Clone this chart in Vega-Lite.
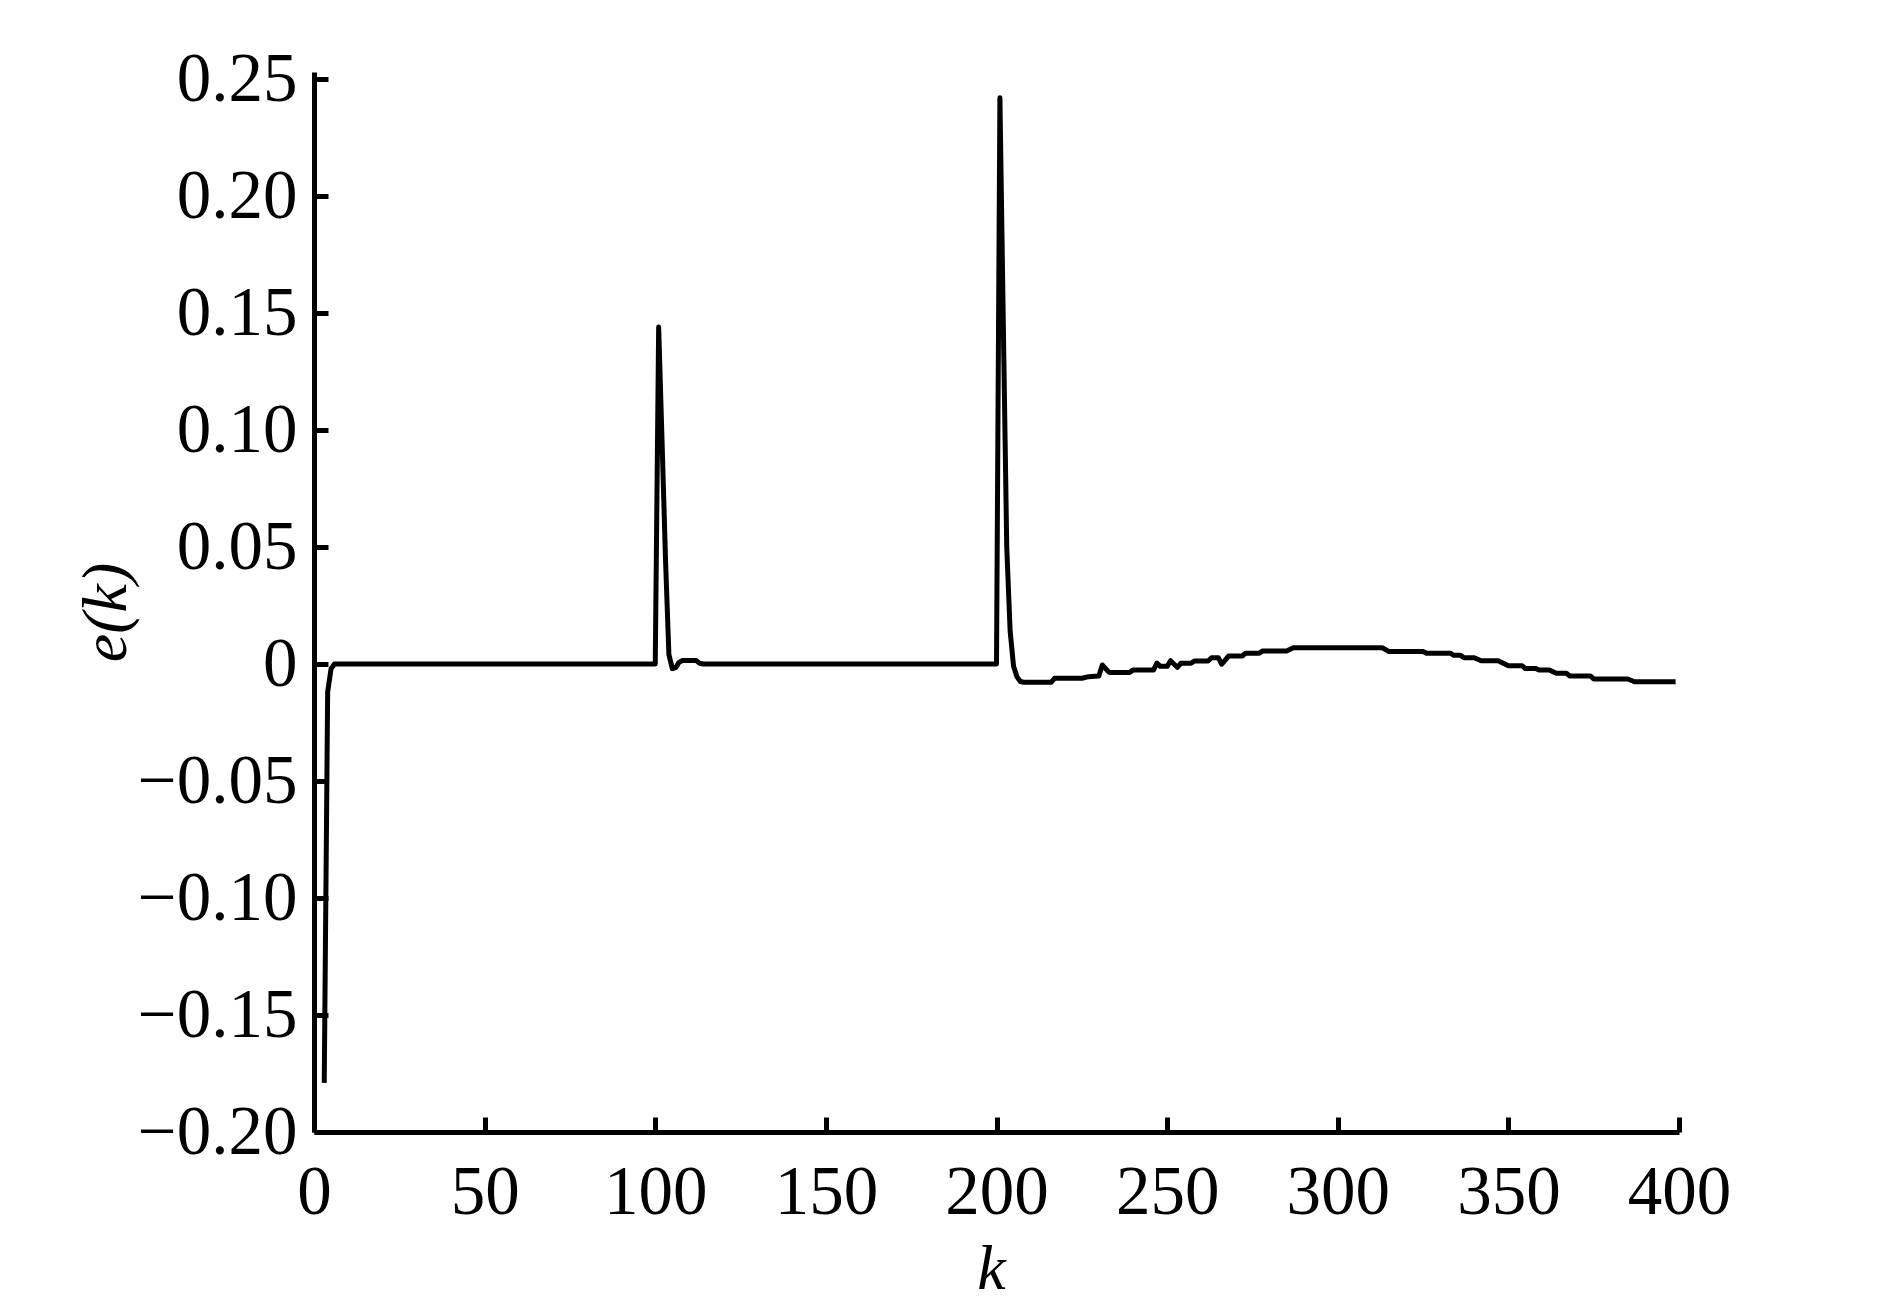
{
  "$schema": "https://vega.github.io/schema/vega-lite/v6.json",
  "width": 1365,
  "height": 1060,
  "autosize": "none",
  "padding": {"left": 314, "top": 72, "right": 211, "bottom": 167},
  "background": "white",
  "config": {
    "view": {"stroke": null},
    "axis": {
      "domainColor": "black", "domainWidth": 5, "tickColor": "black", "tickWidth": 5,
      "labelFont": "Liberation Serif", "labelFontSize": 69, "labelColor": "black",
      "titleFont": "Liberation Serif", "titleFontSize": 64, "titleFontStyle": "italic", "titleFontWeight": "normal", "titleColor": "black",
      "grid": false
    }
  },
  "data": {"values": [
    {"k": 3, "e": -0.179}, {"k": 4, "e": -0.012}, {"k": 5, "e": -0.002}, {"k": 6, "e": 0},
    {"k": 100, "e": 0}, {"k": 101, "e": 0.144}, {"k": 102, "e": 0.095}, {"k": 103, "e": 0.045},
    {"k": 104, "e": 0.004}, {"k": 105, "e": -0.002}, {"k": 106, "e": -0.0015}, {"k": 107, "e": 0.0008},
    {"k": 108, "e": 0.0015}, {"k": 112, "e": 0.0015}, {"k": 113, "e": 0.0003}, {"k": 114, "e": 0},
    {"k": 200, "e": 0}, {"k": 201, "e": 0.242}, {"k": 202, "e": 0.145}, {"k": 203, "e": 0.05},
    {"k": 204, "e": 0.014}, {"k": 205, "e": -0.001}, {"k": 206, "e": -0.0055}, {"k": 207, "e": -0.0075},
    {"k": 208, "e": -0.0078}, {"k": 216, "e": -0.0078}, {"k": 217, "e": -0.0061}, {"k": 225, "e": -0.0061},
    {"k": 227, "e": -0.0054}, {"k": 230, "e": -0.0051}, {"k": 231, "e": -0.0004}, {"k": 233, "e": -0.0036},
    {"k": 239, "e": -0.0036}, {"k": 240, "e": -0.0026}, {"k": 246, "e": -0.0026}, {"k": 247, "e": 0.0004},
    {"k": 248, "e": -0.001}, {"k": 250, "e": -0.001}, {"k": 251, "e": 0.0014}, {"k": 253, "e": -0.0014},
    {"k": 254, "e": 0.0003}, {"k": 257, "e": 0.0003}, {"k": 258, "e": 0.0013}, {"k": 262, "e": 0.0013},
    {"k": 263, "e": 0.0027}, {"k": 265, "e": 0.0027}, {"k": 266, "e": -0.0001}, {"k": 268, "e": 0.0034},
    {"k": 272, "e": 0.0034}, {"k": 273, "e": 0.0046}, {"k": 277, "e": 0.0046}, {"k": 278, "e": 0.0056},
    {"k": 285, "e": 0.0056}, {"k": 287, "e": 0.007}, {"k": 313, "e": 0.007}, {"k": 315, "e": 0.0053},
    {"k": 325, "e": 0.0053}, {"k": 326, "e": 0.0046}, {"k": 333, "e": 0.0046}, {"k": 334, "e": 0.0037},
    {"k": 336, "e": 0.0037}, {"k": 337, "e": 0.0027}, {"k": 340, "e": 0.0027}, {"k": 342, "e": 0.0014},
    {"k": 347, "e": 0.0014}, {"k": 350, "e": -0.0007}, {"k": 354, "e": -0.0007}, {"k": 355, "e": -0.0019},
    {"k": 358, "e": -0.0019}, {"k": 359, "e": -0.0026}, {"k": 362, "e": -0.0026}, {"k": 364, "e": -0.004},
    {"k": 367, "e": -0.004}, {"k": 368, "e": -0.0051}, {"k": 374, "e": -0.0051}, {"k": 375, "e": -0.0064},
    {"k": 385, "e": -0.0064}, {"k": 387, "e": -0.0076}, {"k": 399, "e": -0.0076}
  ]},
  "mark": {"type": "line", "color": "black", "strokeWidth": 5, "strokeJoin": "round", "clip": true},
  "encoding": {
    "x": {
      "field": "k", "type": "quantitative",
      "scale": {"domain": [0, 400], "nice": false, "zero": false},
      "axis": {
        "title": "k", "values": [0, 50, 100, 150, 200, 250, 300, 350, 400],
        "tickSize": -15, "labelPadding": 41, "labelFlush": false,
        "titleX": 677, "titleY": 156, "titleBaseline": "alphabetic", "titleAlign": "center"
      }
    },
    "y": {
      "field": "e", "type": "quantitative",
      "scale": {"domain": [-0.2, 0.253], "nice": false, "zero": false},
      "axis": {
        "title": "e(k)", "values": [-0.2, -0.15, -0.1, -0.05, 0, 0.05, 0.1, 0.15, 0.2, 0.25],
        "labelExpr": "datum.value == 0 ? '0' : format(datum.value, '.2f')",
        "tickSize": -14, "labelPadding": 31, "labelFlush": false,
        "titleX": -189, "titleY": 540, "titleAngle": -90, "titleBaseline": "alphabetic", "titleAlign": "center"
      }
    }
  }
}
